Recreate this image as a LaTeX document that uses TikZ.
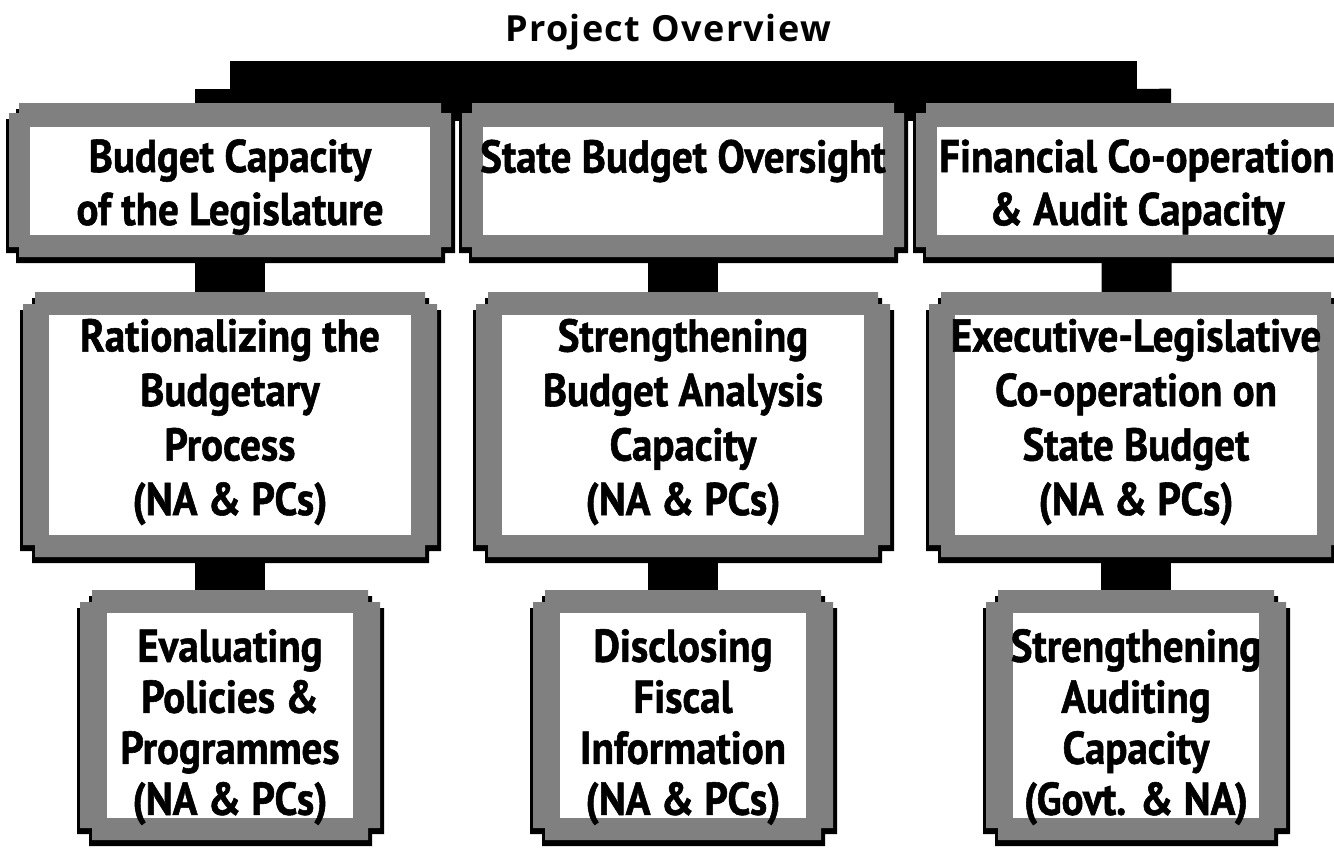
\documentclass[tikz,border=0pt]{standalone}
\usepackage{fontspec}
\setmainfont{PT Sans}
\newfontfamily\boxfont{PT Sans}[FakeStretch=0.89, BoldFeatures={FakeBold=1.2}]
\newfontfamily\headfont{Open Sans}[LetterSpace=4]
\usetikzlibrary{calc}
\pgfdeclarelayer{bg}
\pgfdeclarelayer{mid}
\pgfsetlayers{bg,mid,main}
\definecolor{framegray}{RGB}{128,128,128}

% notched plaque outline: left, right, top, bottom, notch (canvas lengths)
\newcommand\plaquepath[5]{%
  ({#1+#5},{#3}) -- ({#2-#5},{#3}) -- ({#2-#5},{#3-#5}) -- ({#2},{#3-#5}) --
  ({#2},{#4+#5}) -- ({#2-#5},{#4+#5}) -- ({#2-#5},{#4}) -- ({#1+#5},{#4}) --
  ({#1+#5},{#4+#5}) -- ({#1},{#4+#5}) -- ({#1},{#3-#5}) -- ({#1+#5},{#3-#5}) -- cycle}

% grey frame with black rim around a white panel node:
% #1 panel, #2 side border, #3 top border, #4 bottom border, #5 notch
\newcommand\plaque[5]{%
  \begin{pgfonlayer}{mid}
    \fill[black] let \p1=(#1.north west), \p2=(#1.south east) in
      \plaquepath{\x1-#2pt-3pt}{\x2+#2pt+4pt}{\y1+#3pt-6pt}{\y2-#4pt-6pt}{#5pt};
    \fill[framegray] let \p1=(#1.north west), \p2=(#1.south east) in
      \plaquepath{\x1-#2pt}{\x2+#2pt}{\y1+#3pt}{\y2-#4pt}{#5pt};
  \end{pgfonlayer}}

\tikzset{
  panel/.style={fill=white, draw=none, inner sep=0pt, outer sep=0pt},
  panelA/.style={panel, minimum width=400pt, minimum height=108pt},
  panelB/.style={panel, minimum width=362pt, minimum height=220pt},
  panelC/.style={panel, minimum width=246pt, minimum height=205pt},
  caption/.style={inner sep=0pt, align=center,
    font=\fontsize{46}{#1}\selectfont\boxfont\bfseries},
  caption/.default=53,
  heading/.style={inner sep=0pt, font=\fontsize{36}{40}\selectfont\headfont\bfseries},
  bar/.style={draw=black, line width=#1, line cap=butt},
}

\begin{document}
\begin{tikzpicture}[x=1pt, y=-1pt]
  \useasboundingbox (0,0) rectangle (1334,849);
  \clip (0,0) rectangle (1334,849);

  \node[heading] (title) at (668,32) {Project Overview};

  % top level
  \node[panelA] (a1) at (230,181) {};
  \node[panelA] (a2) at (683,181) {};
  \node[panelA] (a3) at (1137,181) {};
  % middle level
  \node[panelB] (b1) at (230,425) {};
  \node[panelB] (b2) at (683,425) {};
  \node[panelB] (b3) at (1136,425) {};
  % bottom level
  \node[panelC] (c1) at (230,715.5) {};
  \node[panelC] (c2) at (683,715.5) {};
  \node[panelC] (c3) at (1136,715.5) {};

  \plaque{a1}{21}{24}{22}{10}
  \plaque{a2}{21}{24}{22}{10}
  \plaque{a3}{21}{24}{22}{10}
  \plaque{b1}{26}{23}{22}{12}
  \plaque{b2}{26}{23}{22}{12}
  \plaque{b3}{26}{23}{22}{12}
  \plaque{c1}{27}{23}{22}{12}
  \plaque{c2}{27}{23}{22}{12}
  \plaque{c3}{27}{23}{22}{12}

  % captions
  \node[caption] (a1t) at (230,187) {Budget Capacity\\of the Legislature};
  \node[caption] (a2t) at (683,161) {State Budget Oversight};
  \node[caption] (a3t) at (1137,187) {Financial Co-operation\\\& Audit Capacity};
  \node[caption=54.5] (b1t) at (230,422) {Rationalizing the\\Budgetary\\Process\\(NA \& PCs)};
  \node[caption=54.5] (b2t) at (683,422) {Strengthening\\Budget Analysis\\Capacity\\(NA \& PCs)};
  \node[caption=54.5] (b3t) at (1136,422) {Executive-Legislative\\Co-operation on\\State Budget\\(NA \& PCs)};
  \node[caption=51] (c1t) at (230,727) {Evaluating\\Policies \&\\Programmes\\(NA \& PCs)};
  \node[caption=51] (c2t) at (683,727) {Disclosing\\Fiscal\\Information\\(NA \& PCs)};
  \node[caption=51] (c3t) at (1136,727) {Strengthening\\Auditing\\Capacity\\(Govt. \& NA)};

  % connectors
  \coordinate (h1) at (230,91);
  \coordinate (h3) at (1137,91);
  \coordinate (d1) at (230,89);
  \coordinate (d2) at (683,89);
  \coordinate (d3) at (1136,89);
  \begin{pgfonlayer}{bg}
    \draw[bar=60pt] (h1) -- (h3);
    \foreach \c in {1,2,3} {
      \draw[bar=70pt] (d\c) -- (a\c);
      \draw[bar=70pt] (a\c) -- (b\c);
      \draw[bar=70pt] (b\c) -- (c\c);
    }
  \end{pgfonlayer}
\end{tikzpicture}
\end{document}
